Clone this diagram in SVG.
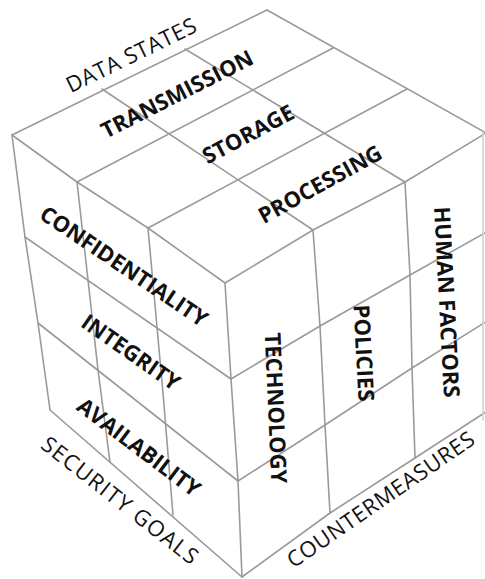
<svg xmlns="http://www.w3.org/2000/svg" width="485" height="579" viewBox="0 0 485 579">
<style>
.g{fill:none;stroke:#9a9a9a;stroke-width:1.6;stroke-linecap:round;stroke-linejoin:round}
.b{font-family:"Open Sans","Liberation Sans",sans-serif;font-weight:700;font-size:22px;fill:#111;text-anchor:middle}
.r{font-family:"Open Sans","Liberation Sans",sans-serif;font-weight:400;font-size:22px;fill:#111;text-anchor:middle}
</style>
<rect width="485" height="579" fill="#fff"/>
<g id="grid" class="g">
<path d="M12,135 L267,10"/>
<path d="M77,182 L333,48"/>
<path d="M148,228 L407,89"/>
<path d="M225,283 L313,230 L405,182 L486,133"/>
<path d="M12,135 L77,182 L148,228 L225,283"/>
<path d="M102,89 L313,230"/>
<path d="M185,49 L405,182"/>
<path d="M267,10 L486,133"/>
<path d="M12,135 L25,237 L38,323 L50,410"/>
<path d="M77,182 L88,280 L98,370 L110,462"/>
<path d="M148,228 L157,327 L163,393 L173,515"/>
<path d="M225,283 L231,379 L238,481 L242,577"/>
<path d="M25,237 L231,379"/>
<path d="M38,323 L238,481"/>
<path d="M50,410 L242,577"/>
<path d="M313,230 L320,326 L325,425 L330,513"/>
<path d="M405,182 L410,275 L412,368 L415,458"/>
<path d="M231,379 L320,326 L410,275 L492,229"/>
<path d="M238,481 L325,425 L412,368 L492,318"/>
<path d="M242,577 L330,513 L415,458 L492,408"/>
<path d="M483,132 L483,420" stroke="#d4d4d4"/>
</g>
<g id="axis-data-states"><text class="r" transform="translate(131,55) rotate(-26)" y="8" textLength="142">DATA STATES</text></g>
<g id="transmission"><text class="b" transform="translate(177,94) rotate(-27)" y="8">TRANSMISSION</text></g>
<g id="storage"><text class="b" transform="translate(248,134) rotate(-28)" y="8">STORAGE</text></g>
<g id="processing"><text class="b" transform="translate(320,184) rotate(-29)" y="8">PROCESSING</text></g>
<g id="confidentiality"><text class="b" transform="translate(124,266) rotate(34)" y="8">CONFIDENTIALITY</text></g>
<g id="integrity"><text class="b" transform="translate(131,352) rotate(35)" y="8">INTEGRITY</text></g>
<g id="availability"><text class="b" transform="translate(139,447) rotate(37)" y="8">AVAILABILITY</text></g>
<g id="axis-security-goals"><text class="r" transform="translate(120,500) rotate(38)" y="8" textLength="192">SECURITY GOALS</text></g>
<g id="technology"><text class="b" transform="translate(276,408) rotate(87.5)" y="8">TECHNOLOGY</text></g>
<g id="policies"><text class="b" transform="translate(364,353) rotate(87)" y="8">POLICIES</text></g>
<g id="human-factors"><text class="b" transform="translate(447,302) rotate(87)" y="8">HUMAN FACTORS</text></g>
<g id="axis-countermeasures"><text class="r" transform="translate(381,500) rotate(-34.5)" y="7" font-size="21" textLength="222">COUNTERMEASURES</text></g>
</svg>
